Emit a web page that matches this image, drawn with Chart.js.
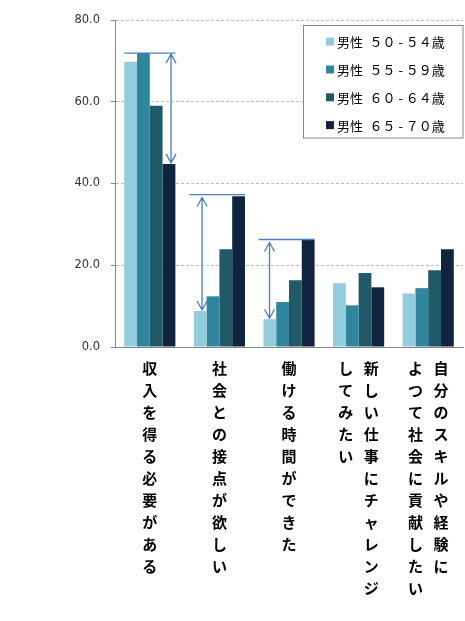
<!DOCTYPE html>
<html><head><meta charset="utf-8">
<script src="https://cdn.jsdelivr.net/npm/chart.js@4"></script>
<style>html,body{margin:0;padding:0;background:#fff}#w{width:465px;height:621px;position:relative}</style>
</head><body><div id="w"><canvas id="c"></canvas></div>
<script>
// Category labels: each entry lists vertical columns, first = rightmost column
const categories = [
  ['収入を得る必要がある'],
  ['社会との接点が欲しい'],
  ['働ける時間ができた'],
  ['新しい仕事にチャレンジ', 'してみたい'],
  ['自分のスキルや経験に', 'よつて社会に貢献したい']
];
const seriesNames = ['男性\u2002５０ - ５４歳', '男性\u2002５５ - ５９歳', '男性\u2002６０ - ６４歳', '男性\u2002６５ - ７０歳'];
const men50_54 = [69.8, 8.8, 6.8, 15.6, 13.1];
const men55_59 = [71.9, 12.4, 11.0, 10.2, 14.4];
const men60_64 = [59.0, 23.9, 16.3, 18.1, 18.8];
const men65_70 = [44.8, 36.9, 26.2, 14.6, 23.9];
const yTicks = [0, 20, 40, 60, 80];
// gap ranges marked with arrows
const rangeCats = [0, 1, 2];
const rangeTop = [71.9, 37.3, 26.3];
const rangeBottom = [44.8, 8.8, 6.8];

const colors = ['#93CDDD', '#31859C', '#215968', '#10243E'];

function verticalLines(cols) {
  const a = Array.from(cols[0]);
  if (cols.length === 1) return a;
  const b = Array.from(cols[1]);
  const n = Math.max(a.length, b.length);
  const out = [];
  for (let i = 0; i < n; i++) out.push((b[i] || '　') + '\u2002\u2009' + (a[i] || '　'));
  return out;
}
const labels = categories.map(verticalLines);

const arrowStyle = {
  hx0: [-0.367, -0.432, -0.435],
  hx1: [0.367, 0.37, 0.367],
  vx: [0.305, -0.249, -0.28]
};

const rangePlugin = {
  id: 'ranges',
  afterDatasetsDraw(chart) {
    const ctx = chart.ctx, x = chart.scales.x, y = chart.scales.y;
    const w = x.getPixelForValue(1) - x.getPixelForValue(0);
    ctx.save();
    ctx.strokeStyle = '#4A7EBB';
    ctx.lineWidth = 1.3;
    rangeCats.forEach((c, i) => {
      const cx = x.getPixelForValue(c);
      const yt = y.getPixelForValue(rangeTop[i]);
      const yb = y.getPixelForValue(rangeBottom[i]);
      ctx.beginPath();
      ctx.moveTo(cx + arrowStyle.hx0[i] * w, yt);
      ctx.lineTo(cx + arrowStyle.hx1[i] * w, yt);
      ctx.stroke();
      const vx = cx + arrowStyle.vx[i] * w;
      const t = yt + (i === 0 ? 1 : 3);
      const b = yb - 1;
      ctx.beginPath();
      ctx.moveTo(vx, t); ctx.lineTo(vx, b);
      ctx.moveTo(vx - 5, t + 9); ctx.lineTo(vx, t); ctx.lineTo(vx + 5, t + 9);
      ctx.moveTo(vx - 5, b - 9); ctx.lineTo(vx, b); ctx.lineTo(vx + 5, b - 9);
      ctx.stroke();
    });
    ctx.restore();
  }
};

const legendPlugin = {
  id: 'boxLegend',
  afterDraw(chart) {
    const ctx = chart.ctx;
    const bx = 303.5, by = 25.5, bw = 159.5, bh = 112.5;
    ctx.save();
    ctx.fillStyle = '#fff';
    ctx.fillRect(bx, by, bw, bh);
    ctx.strokeStyle = '#868686';
    ctx.lineWidth = 1;
    ctx.strokeRect(bx, by, bw, bh);
    ctx.font = '13px "Noto Sans CJK JP"';
    ctx.textBaseline = 'middle';
    ctx.textAlign = 'left';
    chart.data.datasets.forEach((ds, i) => {
      const cy = 41.7 + i * 27.8;
      ctx.fillStyle = ds.backgroundColor;
      ctx.fillRect(326, cy - 4, 8, 8);
      ctx.fillStyle = '#000';
      ctx.fillText(ds.label, 337, cy + 0.5);
    });
    ctx.restore();
  }
};

new Chart(document.getElementById('c'), {
  type: 'bar',
  data: {
    labels: labels,
    datasets: [men50_54, men55_59, men60_64, men65_70].map((d, i) => ({
      label: seriesNames[i], data: d, backgroundColor: colors[i],
      borderWidth: 0, categoryPercentage: 0.735, barPercentage: 1
    }))
  },
  options: {
    responsive: true, maintainAspectRatio: false, animation: false,
    layout: { padding: { top: 20, right: 2, left: 0, bottom: 0 } },
    plugins: { legend: { display: false }, tooltip: { enabled: false } },
    scales: {
      x: {
        grid: { display: false, drawTicks: false },
        border: { display: true, color: '#868686', width: 1 },
        ticks: {
          autoSkip: false, maxRotation: 0, minRotation: 0, padding: 10,
          color: '#000',
          font: { family: '"Noto Sans CJK JP"', size: 15, weight: 'bold', lineHeight: 1.47 }
        },
        afterFit(s) { s.height = 274; }
      },
      y: {
        min: 0, max: 80,
        afterBuildTicks(s) { s.ticks = yTicks.map(v => ({ value: v })); },
        ticks: {
          callback: v => Number(v).toFixed(1),
          color: '#333', padding: 11,
          font: { family: '"DejaVu Sans"', size: 11.5 }
        },
        grid: { color: '#BDBDBD', tickLength: 4, tickColor: '#868686' },
        border: { display: true, color: '#868686', width: 1, dash: [3, 2] },
        afterFit(s) { s.width = 115; }
      }
    }
  },
  plugins: [rangePlugin, legendPlugin]
});
</script>
</body></html>
